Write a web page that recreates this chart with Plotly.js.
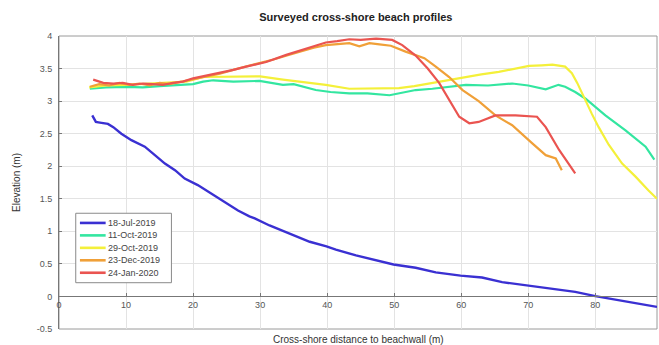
<!DOCTYPE html>
<html>
<head>
<meta charset="utf-8">
<script src="https://cdn.plot.ly/plotly-3.0.1.min.js"></script>
<style>
  html, body { margin: 0; padding: 0; background: #fff; }
  #chart { width: 659px; height: 345px; }
</style>
</head>
<body>
<div id="chart"></div>
<script>
// Survey dates (legend labels) and line colours
const surveyNames = ['18-Jul-2019', '11-Oct-2019', '29-Oct-2019', '23-Dec-2019', '24-Jan-2020'];
const surveyColors = ['#3a30d2', '#33e6a0', '#f4f03a', '#f0a038', '#ea5450'];

// 18-Jul-2019 profile: distance (m) and elevation (m)
const jul18X = [4.96, 5.5, 6.1, 7.3, 8.1, 9.3, 10.8, 12.8, 14.3, 15.8, 17.3, 18.75, 20.7, 22.7, 24.7, 26.7, 28.4, 29.2, 31.4, 34.4, 37.4, 39.9, 41.3, 44.3, 47.3, 49.9, 53.2, 56.2, 59.9, 63.1, 66.1, 70.0, 73.1, 77.0, 80.0, 83.0, 86.0, 89.2];
const jul18Y = [2.78, 2.68, 2.67, 2.65, 2.60, 2.50, 2.40, 2.30, 2.17, 2.04, 1.94, 1.81, 1.71, 1.58, 1.45, 1.32, 1.23, 1.20, 1.09, 0.96, 0.84, 0.77, 0.72, 0.63, 0.55, 0.49, 0.44, 0.37, 0.32, 0.29, 0.22, 0.17, 0.12, 0.07, 0.005, -0.05, -0.10, -0.16];

// 11-Oct-2019 profile
const oct11X = [4.6, 7, 10.1, 12.5, 15, 17.5, 20, 21.5, 23, 26, 29.9, 33.4, 35, 38.3, 40.5, 43.3, 46, 49.3, 51, 53.2, 55.7, 58.2, 60.7, 64, 67.6, 70, 72.6, 74.5, 75.5, 77, 78.5, 81.5, 84.5, 87.5, 88.8];
const oct11Y = [3.19, 3.21, 3.22, 3.21, 3.23, 3.24, 3.26, 3.30, 3.32, 3.30, 3.31, 3.25, 3.26, 3.17, 3.14, 3.12, 3.12, 3.09, 3.12, 3.17, 3.19, 3.22, 3.25, 3.24, 3.27, 3.24, 3.18, 3.25, 3.22, 3.14, 3.04, 2.78, 2.55, 2.30, 2.10];

// 29-Oct-2019 profile
const oct29X = [4.5, 7, 10, 13, 16, 19, 21.5, 24, 27.9, 30, 33.4, 35, 37, 39.8, 43.3, 45.8, 48, 50.7, 53, 55.7, 58.2, 60.7, 63, 65.6, 68, 70.1, 72, 73.6, 75.5, 76.5, 77.3, 78.3, 79.5, 80.5, 82, 84, 86, 87.9, 89.2];
const oct29Y = [3.21, 3.24, 3.25, 3.27, 3.28, 3.30, 3.37, 3.37, 3.38, 3.38, 3.33, 3.31, 3.29, 3.25, 3.19, 3.19, 3.19, 3.20, 3.23, 3.28, 3.32, 3.37, 3.41, 3.45, 3.50, 3.54, 3.55, 3.56, 3.53, 3.43, 3.28, 3.05, 2.80, 2.60, 2.33, 2.04, 1.84, 1.63, 1.50];

// 23-Dec-2019 profile
const dec23X = [4.6, 6, 7.5, 9, 10.5, 12, 13.5, 15, 16.5, 18, 20, 22, 24, 26, 28, 30, 32, 34, 36, 38, 39.8, 41.5, 43.3, 44.8, 46.3, 47.8, 49.5, 51.7, 53.2, 54.5, 56.2, 58.2, 60.2, 62.6, 65.1, 67.6, 70.6, 72.6, 74.1, 75.0];
const dec23Y = [3.22, 3.26, 3.24, 3.28, 3.25, 3.27, 3.24, 3.28, 3.26, 3.29, 3.33, 3.37, 3.42, 3.48, 3.53, 3.58, 3.64, 3.70, 3.76, 3.82, 3.86, 3.87, 3.89, 3.84, 3.89, 3.87, 3.85, 3.76, 3.71, 3.66, 3.53, 3.37, 3.17, 3.00, 2.78, 2.63, 2.35, 2.17, 2.12, 1.94];

// 24-Jan-2020 profile
const jan24X = [5.1, 6.6, 8.1, 9.5, 11, 12.5, 14, 15.5, 17, 18.5, 20, 22, 24, 26, 27.9, 30.9, 33.9, 36.9, 39.8, 41.5, 43.3, 45, 47.3, 49.7, 51.2, 53.2, 55, 56.7, 58.2, 59.7, 61.2, 62.6, 65.1, 68.1, 71.3, 72.6, 74.6, 77.0];
const jan24Y = [3.33, 3.28, 3.27, 3.28, 3.25, 3.27, 3.26, 3.25, 3.28, 3.30, 3.35, 3.39, 3.43, 3.48, 3.53, 3.60, 3.71, 3.81, 3.90, 3.92, 3.95, 3.94, 3.96, 3.94, 3.86, 3.70, 3.50, 3.28, 3.02, 2.76, 2.66, 2.68, 2.78, 2.78, 2.76, 2.60, 2.25, 1.89];

// Axis ticks
const xTicks = [0, 10, 20, 30, 40, 50, 60, 70, 80];
const yTicks = [-0.5, 0, 0.5, 1, 1.5, 2, 2.5, 3, 3.5, 4];

const profilesX = [jul18X, oct11X, oct29X, dec23X, jan24X];
const profilesY = [jul18Y, oct11Y, oct29Y, dec23Y, jan24Y];

const xRange = [0, 89.2];
const yRange = [-0.5, 4];

const traces = surveyNames.map((name, i) => ({
  x: profilesX[i],
  y: profilesY[i],
  type: 'scatter',
  mode: 'lines',
  name: name,
  showlegend: false,
  line: { color: surveyColors[i], width: i === 0 ? 2.4 : 2.2 }
}));

const FONT = 'Liberation Sans, Arial, Helvetica, sans-serif';

// Compact boxed legend in the lower-left of the axes (paper coordinates)
const legendBox = { x0: 0.028, x1: 0.188, y0: 0.158, y1: 0.395 };
const legendRowTop = 0.362, legendRowStep = 0.0425;
const shapes = [
  // axes box
  { type: 'rect', xref: 'paper', yref: 'paper', x0: 0, x1: 1, y0: 0, y1: 1,
    line: { color: '#9a9a9a', width: 1 }, fillcolor: 'rgba(0,0,0,0)', layer: 'below' },
  { type: 'rect', xref: 'paper', yref: 'paper', ...legendBox,
    line: { color: '#8a8a8a', width: 1 }, fillcolor: '#ffffff', layer: 'above' }
];
const annotations = [
  { text: 'Cross-shore distance to beachwall (m)', xref: 'paper', yref: 'paper',
    x: 0.5, y: 0, yshift: -10, xanchor: 'center', yanchor: 'middle', showarrow: false,
    font: { family: FONT, size: 10, color: '#333' } }
];
surveyNames.forEach((name, i) => {
  const yy = legendRowTop - i * legendRowStep;
  shapes.push({ type: 'line', xref: 'paper', yref: 'paper', x0: 0.035, x1: 0.078, y0: yy, y1: yy,
    line: { color: surveyColors[i], width: 2.6 }, layer: 'above' });
  annotations.push({ text: name, xref: 'paper', yref: 'paper', x: 0.079, y: yy,
    xanchor: 'left', yanchor: 'middle', showarrow: false,
    font: { family: FONT, size: 9, color: '#444' } });
});

const layout = {
  width: 659,
  height: 345,
  margin: { l: 59, r: 2, t: 36, b: 16, pad: 0 },
  paper_bgcolor: '#ffffff',
  plot_bgcolor: '#ffffff',
  font: { family: FONT, size: 9, color: '#555' },
  title: {
    text: 'Surveyed cross-shore beach profiles',
    font: { family: FONT, size: 11, color: '#222', weight: 'bold' },
    x: 0.54, xanchor: 'center', y: 0.95, yanchor: 'middle'
  },
  xaxis: {
    range: xRange,
    tickvals: xTicks,
    ticktext: xTicks.map(String),
    anchor: 'free',
    // x axis crosses the y axis at elevation 0
    position: (0 - yRange[0]) / (yRange[1] - yRange[0]),
    showline: true, linecolor: '#777', linewidth: 1,
    ticks: 'inside', ticklen: 3, tickcolor: '#777',
    showgrid: true, gridcolor: '#e3e3e3', gridwidth: 1,
    zeroline: false,
    tickfont: { family: FONT, size: 9, color: '#555' }
  },
  yaxis: {
    range: yRange,
    tickvals: yTicks,
    ticktext: yTicks.map(String),
    showline: true, linecolor: '#777', linewidth: 1,
    ticks: 'inside', ticklen: 3, tickcolor: '#777',
    ticklabelstandoff: 4,
    showgrid: true, gridcolor: '#e3e3e3', gridwidth: 1,
    zeroline: false,
    tickfont: { family: FONT, size: 9, color: '#555' },
    title: { text: 'Elevation (m)', font: { family: FONT, size: 10, color: '#333' }, standoff: 14 }
  },
  showlegend: false,
  shapes: shapes,
  annotations: annotations
};

Plotly.newPlot('chart', traces, layout, { displayModeBar: false, staticPlot: true });
</script>
</body>
</html>
